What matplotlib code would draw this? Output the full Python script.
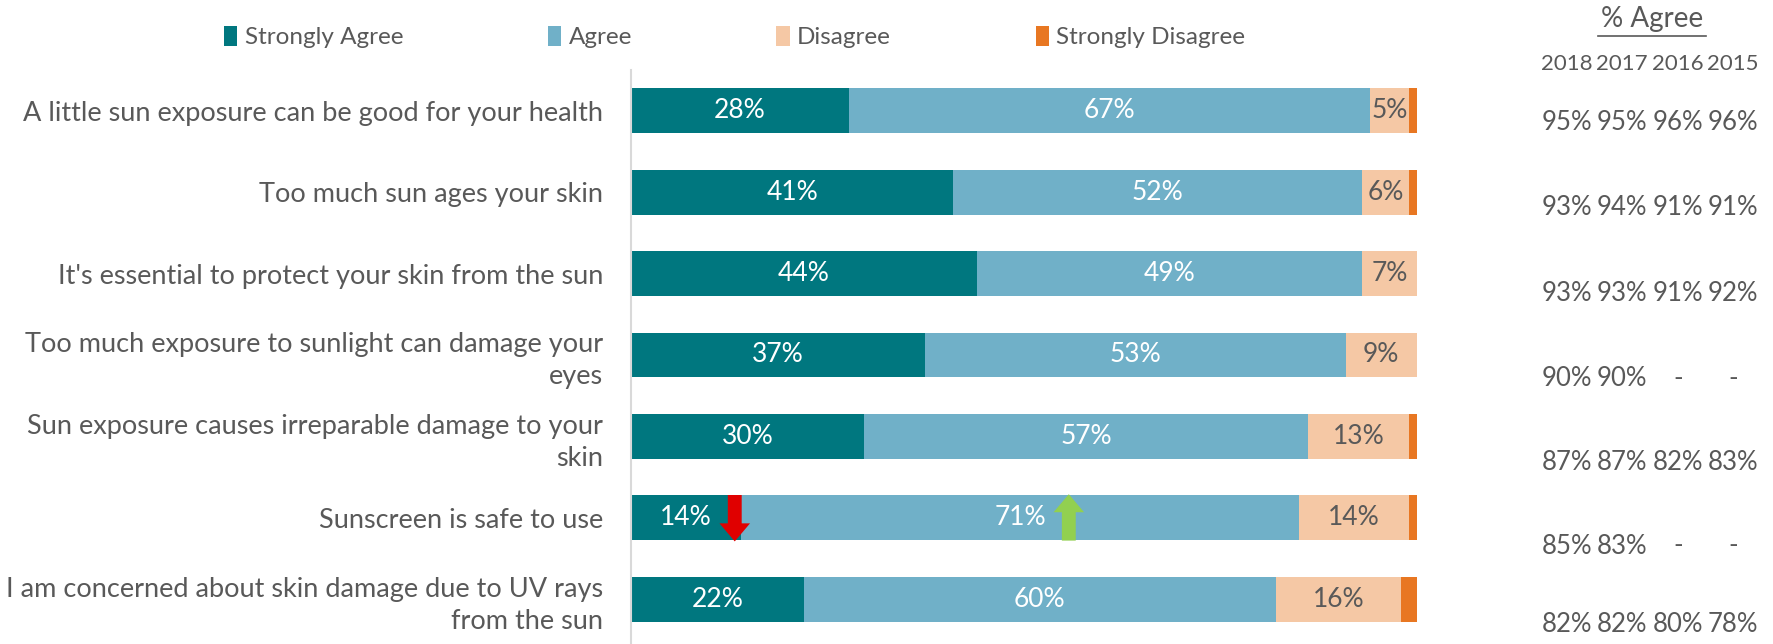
import numpy as np
import matplotlib.pyplot as plt
from matplotlib.lines import Line2D

# Datos
categorias = ['A little sun exposure can be good for your health',
              'Too much sun ages your skin',
              "It's essential to protect your skin from the sun",
              'Too much exposure to sunlight can damage your\neyes',
              'Sun exposure causes irreparable damage to your\nskin',
              'Sunscreen is safe to use',
              'I am concerned about skin damage due to UV rays\nfrom the sun']
muy_de_acuerdo = [28, 41, 44, 37, 30, 14, 22]
de_acuerdo = [67, 52, 49, 53, 57, 71, 60]
desacuerdo = [5, 6, 7, 9, 13, 14, 16]
muy_desacuerdo = [1, 1, 0, 0, 1, 1, 2]
series = ['Strongly Agree', 'Agree', 'Disagree', 'Strongly Disagree']
colores = ['#00777f', '#70b0c8', '#f5c8a5', '#e87722']

anios = ['2018', '2017', '2016', '2015']
pct_2018 = ['95%', '93%', '93%', '90%', '87%', '85%', '82%']
pct_2017 = ['95%', '94%', '93%', '90%', '87%', '83%', '82%']
pct_2016 = ['96%', '91%', '91%', '-', '82%', '-', '80%']
pct_2015 = ['96%', '91%', '92%', '-', '83%', '-', '78%']

gris = '#595959'
plt.rcParams['font.family'] = ['Lato', 'DejaVu Sans']

fig = plt.figure(figsize=(17.74, 6.44), dpi=100)
ax = fig.add_axes([631 / 1774, 0, 786 / 1774, 1 - 70 / 644])

valores = [muy_de_acuerdo, de_acuerdo, desacuerdo, muy_desacuerdo]
datos = np.array(valores, dtype=float)
datos = datos / datos.sum(axis=0) * 100
y = np.arange(len(categorias))
izq = np.zeros(len(categorias))
colores_texto = ['white', 'white', gris, None]
for i in range(4):
    ax.barh(y, datos[i], left=izq, height=0.55, color=colores[i], label=series[i])
    if colores_texto[i] is not None:
        for j in range(len(categorias)):
            ax.text(izq[j] + datos[i][j] / 2, y[j], f'{valores[i][j]}%', ha='center', va='center',
                    color=colores_texto[i], fontsize=19)
    izq += datos[i]

ax.set_xlim(0, 100)
ax.set_ylim(6.55, -0.5)
ax.set_yticks(y)
ax.set_yticklabels(categorias, fontsize=19.5, color=gris, linespacing=1.35)
ax.tick_params(axis='y', length=0, pad=20)
ax.set_xticks([])
for lado in ['top', 'right', 'bottom']:
    ax.spines[lado].set_visible(False)
ax.spines['left'].set_color('#d9d9d9')
ax.spines['left'].set_linewidth(1.5)

# Flechas de cambio (2018 vs 2017)
ax.annotate('', xy=(13.2, 5.29), xytext=(13.2, 4.72),
            arrowprops=dict(facecolor='#e00000', edgecolor='none', width=10, headwidth=22,
                            headlength=13, shrink=0))
ax.annotate('', xy=(55.7, 4.71), xytext=(55.7, 5.28),
            arrowprops=dict(facecolor='#92d050', edgecolor='none', width=10, headwidth=22,
                            headlength=13, shrink=0))

# Leyenda
fig.legend(loc='center left', bbox_to_anchor=(224 / 1774, 1 - 37 / 644), ncol=4, frameon=False,
           fontsize=17.5, handlelength=0.55, handleheight=0.9, handletextpad=0.3, columnspacing=5.95,
           labelcolor=gris, borderpad=0, borderaxespad=0)

# Tabla % Agree
fig.text(1652 / 1774, 1 - 19 / 644, '% Agree', ha='center', va='center', fontsize=20, color=gris)
fig.add_artist(Line2D([1598 / 1774, 1706 / 1774], [1 - 36 / 644, 1 - 36 / 644], color=gris, lw=1.2))
col_x = [1567, 1622, 1678, 1733]
filas_y = [122, 208, 293, 378, 463, 546, 624]
for k, anio in enumerate(anios):
    fig.text(col_x[k] / 1774, 1 - 64 / 644, anio, ha='center', va='center', fontsize=16, color=gris)
for k, col in enumerate([pct_2018, pct_2017, pct_2016, pct_2015]):
    for j, v in enumerate(col):
        fig.text(col_x[k] / 1774, 1 - filas_y[j] / 644, v, ha='center', va='center', fontsize=18.5, color=gris)

fig.savefig('out.png', dpi=100)
